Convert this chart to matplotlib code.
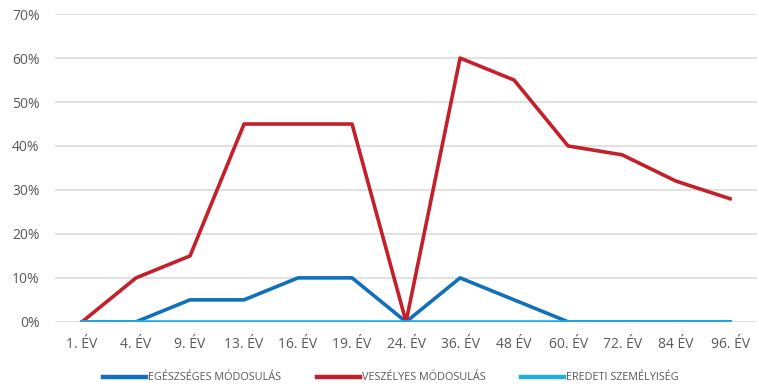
import matplotlib
matplotlib.use('Agg')
import matplotlib.pyplot as plt
import numpy as np

plt.rcParams['font.family'] = ['Open Sans', 'DejaVu Sans']

evek = ['1. ÉV', '4. ÉV', '9. ÉV', '13. ÉV', '16. ÉV', '19. ÉV', '24. ÉV',
        '36. ÉV', '48 ÉV', '60. ÉV', '72. ÉV', '84 ÉV', '96. ÉV']
egeszseges = [0, 0, 5, 5, 10, 10, 0, 10, 5, 0, 0, 0, 0]
veszelyes = [0, 10, 15, 45, 45, 45, 0, 60, 55, 40, 38, 32, 28]
eredeti = [0, 0, 0, 0, 0, 0, 0, 0, 0, 0, 0, 0, 0]

x = np.arange(len(evek))

fig = plt.figure(figsize=(7.59, 3.92), dpi=100)
ax = fig.add_axes([0.0725, 0.179, 0.925, 0.785])

ax.plot(x, egeszseges, color='#1170BA', lw=2.6, label='EGÉSZSÉGES MÓDOSULÁS')
ax.plot(x, veszelyes, color='#C4202A', lw=2.6, label='VESZÉLYES MÓDOSULÁS')
ax.plot(x, eredeti, color='#1FAEE3', lw=2.6, label='EREDETI SZEMÉLYISÉG')

ax.set_xlim(-0.5, len(evek) - 0.5)
ax.set_ylim(0, 70)
ax.set_yticks(range(0, 71, 10))
ax.set_yticklabels([f'{v}%' for v in range(0, 71, 10)])
ax.set_xticks(x)
ax.set_xticklabels(evek)
ax.yaxis.grid(True, color='#D9D9D9', lw=1.1)
ax.set_axisbelow(True)
for s in ax.spines.values():
    s.set_visible(False)
ax.tick_params(length=0, labelsize=10, colors='#595959')
ax.tick_params(axis='x', pad=11)
ax.tick_params(axis='y', pad=11)

leg = fig.legend(loc='center', bbox_to_anchor=(0.515, 0.036), ncol=3, frameon=False,
                 fontsize=7.8, handlelength=4.0, handletextpad=0.15, columnspacing=3.3,
                 labelcolor='#595959')
for h in leg.get_lines():
    h.set_linewidth(3.2)

fig.savefig('out.png', dpi=100)
